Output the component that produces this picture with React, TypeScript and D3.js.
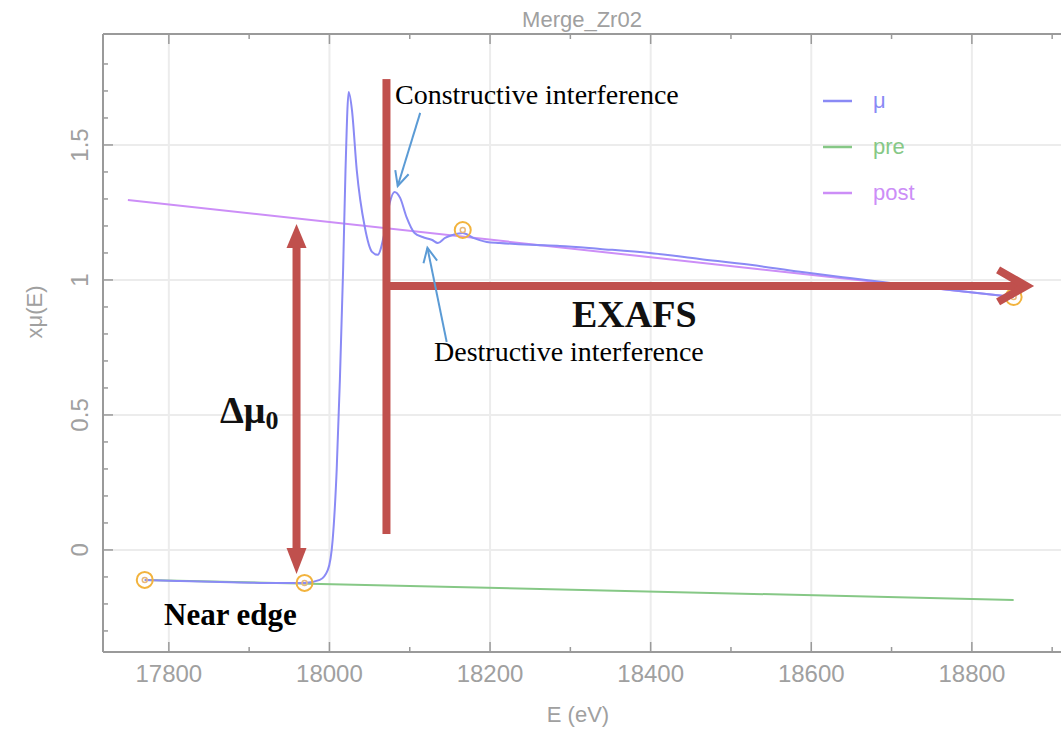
import React from "react";
import { scaleLinear, line, curveMonotoneX, range } from "d3";

// mu(E)
const muEnergy = [17770, 17814, 17864, 17913, 17969, 17988, 17998, 18004, 18009, 18013, 18017, 18020, 18024, 18028, 18034, 18044, 18053, 18060, 18068, 18075, 18081, 18088, 18096, 18106, 18116, 18128, 18135, 18144, 18154, 18166, 18179, 18196, 18212, 18250, 18287, 18337, 18399, 18461, 18524, 18586, 18648, 18710, 18773, 18852];
const muValue = [-0.111, -0.115, -0.119, -0.122, -0.122, -0.111, -0.074, 0.037, 0.296, 0.63, 1.037, 1.407, 1.696, 1.63, 1.407, 1.196, 1.104, 1.093, 1.167, 1.285, 1.326, 1.304, 1.233, 1.174, 1.159, 1.148, 1.137, 1.156, 1.167, 1.174, 1.156, 1.141, 1.137, 1.13, 1.126, 1.115, 1.1, 1.078, 1.056, 1.03, 1.007, 0.985, 0.963, 0.937];

const preEnergy = [17770, 18852];
const preValue = [-0.111, -0.185];

const postEnergy = [17749, 18852];
const postValue = [1.296, 0.937];

// pre1, pre2, norm1, norm2 markers
const markerEnergy = [17770, 17969, 18166, 18852];
const markerValue = [-0.111, -0.122, 1.185, 0.937];

const xTicks = [17800, 18000, 18200, 18400, 18600, 18800];
const yTicks = [0, 0.5, 1, 1.5];
const legendNames = ["\u03bc", "pre", "post"];
const legendColors = ["#8a8af5", "#86c886", "#cc8ef7"];

// annotation marks, in data coords
const edgeBar = { e: 18071, top: 1.744, bottom: 0.059 };
const exafsArrow = { from: 18068, to: 18870, v: 0.978 };
const deltaArrow = { e: 17959, top: 1.207, bottom: -0.089 };
const constructiveArrow = { e0: 18113, v0: 1.619, e1: 18085, v1: 1.348 };
const destructiveArrow = { e0: 18146, v0: 0.77, e1: 18122, v1: 1.119 };

const W = 1061;
const H = 732;
const plot = { left: 103, right: 1061, top: 34, bottom: 652 };
const red = "#c0504d";
const blue = "#5b9bd5";
const gray = "#9a9a9a";

const openHead = (x0: number, y0: number, x1: number, y1: number, len: number) => {
  const a = Math.atan2(y1 - y0, x1 - x0);
  const s = 0.45;
  const p1 = [x1 - len * Math.cos(a - s), y1 - len * Math.sin(a - s)];
  const p2 = [x1 - len * Math.cos(a + s), y1 - len * Math.sin(a + s)];
  return `M${p1[0]},${p1[1]}L${x1},${y1}L${p2[0]},${p2[1]}`;
};

const App: React.FC = () => {
  const x = scaleLinear().domain([17718, 18911]).range([plot.left, plot.right]);
  const y = scaleLinear().domain([-0.378, 1.911]).range([plot.bottom, plot.top]);

  const path = line<[number, number]>()
    .x((d) => x(d[0]))
    .y((d) => y(d[1]));
  const smooth = line<[number, number]>()
    .x((d) => x(d[0]))
    .y((d) => y(d[1]))
    .curve(curveMonotoneX);

  const muPts: [number, number][] = muEnergy.map((e, i) => [e, muValue[i]]);
  const prePts: [number, number][] = preEnergy.map((e, i) => [e, preValue[i]]);
  const postPts: [number, number][] = postEnergy.map((e, i) => [e, postValue[i]]);

  const xMinor = range(17800, 18950, 100);
  const yMinor = range(-0.3, 1.9, 0.1);

  const tickFont = "'Liberation Sans', Arial, sans-serif";
  const serif = "'Liberation Serif', 'Times New Roman', serif";

  // arrow geometry
  const dx = x(deltaArrow.e);
  const dTop = y(deltaArrow.top);
  const dBot = y(deltaArrow.bottom);
  const exY = y(exafsArrow.v);
  const exTip = x(exafsArrow.to);

  const ca = [x(constructiveArrow.e0), y(constructiveArrow.v0), x(constructiveArrow.e1), y(constructiveArrow.v1)];
  const da = [x(destructiveArrow.e0), y(destructiveArrow.v0), x(destructiveArrow.e1), y(destructiveArrow.v1)];

  return (
    <svg width={W} height={H} style={{ position: "absolute", left: 0, top: 0, background: "#fff" }}>
      {/* grid */}
      {xTicks.map((t) => (
        <line key={"gx" + t} x1={x(t)} x2={x(t)} y1={plot.top} y2={plot.bottom} stroke="#ececec" strokeWidth={2} />
      ))}
      {yTicks.map((t) => (
        <line key={"gy" + t} x1={plot.left} x2={plot.right} y1={y(t)} y2={y(t)} stroke="#ececec" strokeWidth={2} />
      ))}

      {/* frame */}
      <line x1={plot.left} x2={plot.right} y1={plot.bottom} y2={plot.bottom} stroke={gray} strokeWidth={2} />
      <line x1={plot.left} x2={plot.right} y1={plot.top} y2={plot.top} stroke={gray} strokeWidth={2} />
      <line x1={plot.left} x2={plot.left} y1={plot.top} y2={plot.bottom} stroke={gray} strokeWidth={2} />

      {/* ticks */}
      {xMinor.map((t) => {
        const major = xTicks.indexOf(t) >= 0;
        const len = major ? 10 : 5;
        return (
          <g key={"xt" + t}>
            <line x1={x(t)} x2={x(t)} y1={plot.bottom} y2={plot.bottom - len} stroke={gray} strokeWidth={1.5} />
            <line x1={x(t)} x2={x(t)} y1={plot.top} y2={plot.top + len} stroke={gray} strokeWidth={1.5} />
          </g>
        );
      })}
      {yMinor.map((t) => {
        const major = yTicks.some((m) => Math.abs(m - t) < 1e-6);
        const len = major ? 10 : 5;
        return <line key={"yt" + t.toFixed(1)} x1={plot.left} x2={plot.left + len} y1={y(t)} y2={y(t)} stroke={gray} strokeWidth={1.5} />;
      })}

      {/* tick labels */}
      {xTicks.map((t) => (
        <text key={"xl" + t} x={x(t)} y={682} textAnchor="middle" fontFamily={tickFont} fontSize={24} fill="#a0a0a0">
          {t}
        </text>
      ))}
      {yTicks.map((t) => (
        <text key={"yl" + t} transform={`translate(88,${y(t)}) rotate(-90)`} textAnchor="middle" fontFamily={tickFont} fontSize={24} fill="#a0a0a0">
          {t}
        </text>
      ))}
      <text x={578} y={722} textAnchor="middle" fontFamily={tickFont} fontSize={22} fill="#a0a0a0">
        E (eV)
      </text>
      <text transform="translate(42,312) rotate(-90)" textAnchor="middle" fontFamily={tickFont} fontSize={22} fill="#a0a0a0">
        x{"\u03bc"}(E)
      </text>
      <text x={582} y={27} textAnchor="middle" fontFamily={tickFont} fontSize={22} fill="#a0a0a0">
        Merge_Zr02
      </text>

      {/* curves */}
      <path d={path(postPts) || ""} fill="none" stroke={legendColors[2]} strokeWidth={2} />
      <path d={path(prePts) || ""} fill="none" stroke={legendColors[1]} strokeWidth={2} />
      <path d={smooth(muPts) || ""} fill="none" stroke={legendColors[0]} strokeWidth={2} />

      {markerEnergy.map((e, i) => (
        <g key={"m" + e}>
          <circle cx={x(e)} cy={y(markerValue[i])} r={8} fill="none" stroke="#f2b33d" strokeWidth={2} />
          <circle cx={x(e)} cy={y(markerValue[i])} r={2.5} fill="none" stroke="#e8b87a" strokeWidth={1.5} />
        </g>
      ))}

      {/* legend */}
      {legendNames.map((n, i) => (
        <g key={n}>
          <line x1={823} x2={852} y1={101 + i * 46} y2={101 + i * 46} stroke={legendColors[i]} strokeWidth={2.5} />
          <text x={873} y={108 + i * 46} fontFamily={tickFont} fontSize={22} fill={legendColors[i]}>
            {n}
          </text>
        </g>
      ))}

      {/* red annotations */}
      <rect x={x(edgeBar.e) - 4} y={y(edgeBar.top)} width={8} height={y(edgeBar.bottom) - y(edgeBar.top)} fill={red} />
      <line x1={x(exafsArrow.from)} x2={exTip - 6} y1={exY} y2={exY} stroke={red} strokeWidth={8} />
      <path d={`M${exTip - 30},${exY - 16}L${exTip - 2},${exY}L${exTip - 30},${exY + 16}`} fill="none" stroke={red} strokeWidth={8} strokeLinejoin="miter" />

      <line x1={dx} x2={dx} y1={dTop + 20} y2={dBot - 20} stroke={red} strokeWidth={8} />
      <path d={`M${dx},${dTop}L${dx + 10},${dTop + 24}L${dx - 10},${dTop + 24}Z`} fill={red} />
      <path d={`M${dx},${dBot}L${dx + 10},${dBot - 26}L${dx - 10},${dBot - 26}Z`} fill={red} />

      {/* blue annotation arrows */}
      <line x1={ca[0]} y1={ca[1]} x2={ca[2]} y2={ca[3]} stroke={blue} strokeWidth={2} />
      <path d={openHead(ca[0], ca[1], ca[2], ca[3], 16)} fill="none" stroke={blue} strokeWidth={2} />
      <line x1={da[0]} y1={da[1]} x2={da[2]} y2={da[3]} stroke={blue} strokeWidth={2} />
      <path d={openHead(da[0], da[1], da[2], da[3], 16)} fill="none" stroke={blue} strokeWidth={2} />

      {/* text annotations */}
      <text x={395} y={104} fontFamily={serif} fontSize={28} fill="#000">
        Constructive interference
      </text>
      <text x={434} y={361} fontFamily={serif} fontSize={28} fill="#000">
        Destructive interference
      </text>
      <text x={572} y={327} fontFamily={serif} fontSize={38} fontWeight="bold" fill="#111">
        EXAFS
      </text>
      <text x={164} y={625} fontFamily={serif} fontSize={31} fontWeight="bold" fill="#000">
        Near edge
      </text>
      <text x={220} y={423} fontFamily={serif} fontSize={38} fontWeight="bold" fill="#111">
        {"\u0394\u03bc"}
        <tspan fontSize={26} dy={6}>
          0
        </tspan>
      </text>
    </svg>
  );
};

export default App;
